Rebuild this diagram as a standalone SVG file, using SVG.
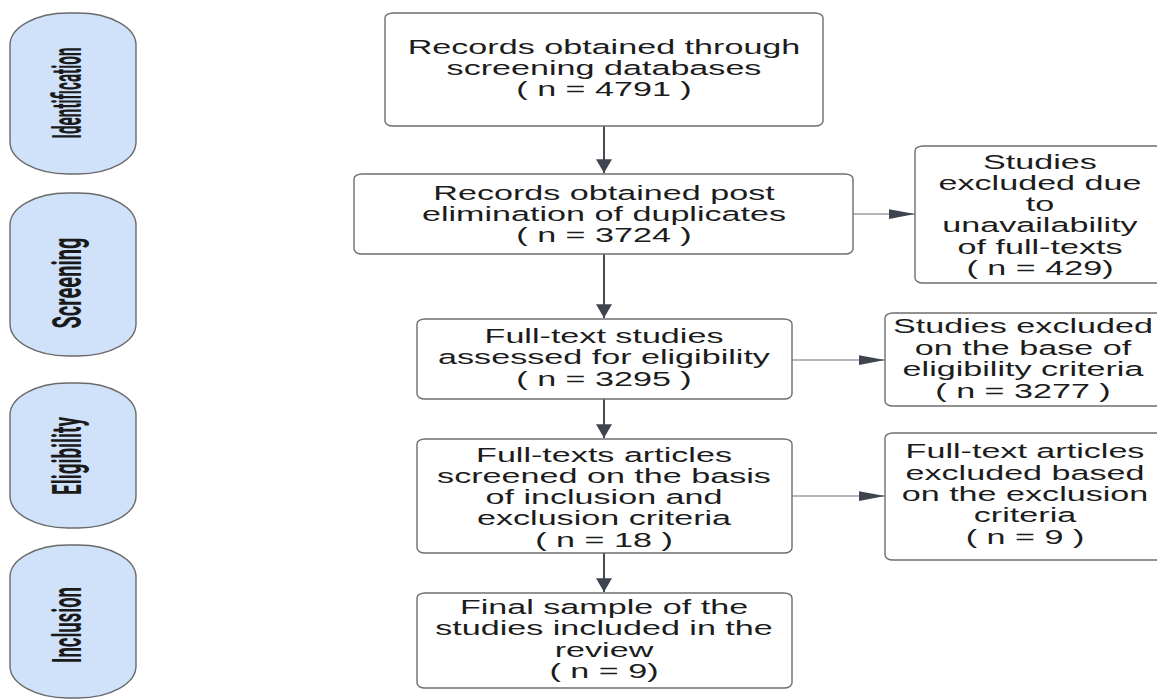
<svg xmlns="http://www.w3.org/2000/svg" width="1157" height="699" viewBox="0 0 1157 699">
<style>
.bg{fill:#ffffff}
.box{fill:#ffffff;stroke:#6e6e6e;stroke-width:1.4}
.pill{fill:#cfe2fa;stroke:#6a6a6a;stroke-width:1.4}
.t{font-family:"Liberation Sans",Arial,sans-serif;font-size:20.5px;fill:#1c1c1c;text-anchor:middle}
.p{font-family:Roboto,"DejaVu Sans Condensed",sans-serif;font-weight:bold;font-size:40px;fill:#1a1a1a;text-anchor:middle}
.v{stroke:#454b55;stroke-width:2;fill:none}
.h{stroke:#6a6e75;stroke-width:1.1;fill:none}
</style>
<defs>
<marker id="arrV" markerUnits="userSpaceOnUse" markerWidth="14" markerHeight="16" refX="12" refY="7" orient="auto" viewBox="0 0 12 14">
<path d="M0,0 L12,7 L0,14 Z" fill="#3f4550"/>
</marker>
<marker id="arrH" markerUnits="userSpaceOnUse" markerWidth="26" markerHeight="10" refX="24" refY="4.5" orient="auto" viewBox="0 0 24 9">
<path d="M0,0 L24,4.5 L0,9 Z" fill="#3f4550"/>
</marker>
</defs>
<rect class="bg" x="0" y="0" width="1157" height="699"/>

<g id="stage-identification">
<rect class="pill" x="10" y="13" width="126" height="161" rx="58" ry="32"/>
<text class="p" transform="translate(81,93) rotate(-90) scale(0.4,1)" textLength="227.5" lengthAdjust="spacingAndGlyphs">Identification</text>
</g>
<g id="stage-screening">
<rect class="pill" x="10" y="193" width="126" height="163" rx="58" ry="32"/>
<text class="p" transform="translate(81,283) rotate(-90) scale(0.4,1)" textLength="227.5" lengthAdjust="spacingAndGlyphs">Screening</text>
</g>
<g id="stage-eligibility">
<rect class="pill" x="10" y="383" width="126" height="145" rx="58" ry="32"/>
<text class="p" transform="translate(81,456) rotate(-90) scale(0.4,1)" textLength="195" lengthAdjust="spacingAndGlyphs">Eligibility</text>
</g>
<g id="stage-inclusion">
<rect class="pill" x="10" y="545" width="126" height="153" rx="58" ry="32"/>
<text class="p" transform="translate(81,625) rotate(-90) scale(0.4,1)" textLength="190" lengthAdjust="spacingAndGlyphs">Inclusion</text>
</g>

<g id="connectors">
<path class="v" d="M604,126 L604,173" marker-end="url(#arrV)"/>
<path class="v" d="M604,254 L604,318" marker-end="url(#arrV)"/>
<path class="v" d="M604,399 L604,438" marker-end="url(#arrV)"/>
<path class="v" d="M604,553 L604,592" marker-end="url(#arrV)"/>
<path class="h" d="M853,214 L915,214" marker-end="url(#arrH)"/>
<path class="h" d="M792,360 L885,360" marker-end="url(#arrH)"/>
<path class="h" d="M792,496 L885,496" marker-end="url(#arrH)"/>
</g>

<g id="records-identified">
<rect class="box" x="385" y="13" width="438" height="113" rx="8" ry="5"/>
<text class="t" transform="translate(604,0) scale(1.665,1)"><tspan x="0" y="54">Records obtained through</tspan><tspan x="0" y="75">screening databases</tspan><tspan x="0" y="96">( n = 4791 )</tspan></text>
</g>
<g id="records-deduplicated">
<rect class="box" x="354" y="174" width="499" height="80" rx="8" ry="5"/>
<text class="t" transform="translate(604,0) scale(1.665,1)"><tspan x="0" y="200">Records obtained post</tspan><tspan x="0" y="221">elimination of duplicates</tspan><tspan x="0" y="242">( n = 3724 )</tspan></text>
</g>
<g id="fulltext-assessed">
<rect class="box" x="417" y="319" width="375" height="80" rx="8" ry="5"/>
<text class="t" transform="translate(604,0) scale(1.665,1)"><tspan x="0" y="343">Full-text studies</tspan><tspan x="0" y="364">assessed for eligibility</tspan><tspan x="0" y="386">( n = 3295 )</tspan></text>
</g>
<g id="fulltext-screened">
<rect class="box" x="417" y="439" width="375" height="114" rx="8" ry="5"/>
<text class="t" transform="translate(604,0) scale(1.665,1)"><tspan x="0" y="462">Full-texts articles</tspan><tspan x="0" y="483">screened on the basis</tspan><tspan x="0" y="504">of inclusion and</tspan><tspan x="0" y="525">exclusion criteria</tspan><tspan x="0" y="547">( n = 18 )</tspan></text>
</g>
<g id="final-sample">
<rect class="box" x="417" y="593" width="375" height="95" rx="8" ry="5"/>
<text class="t" transform="translate(604,0) scale(1.665,1)"><tspan x="0" y="614">Final sample of the</tspan><tspan x="0" y="635">studies included in the</tspan><tspan x="0" y="657">review</tspan><tspan x="0" y="678">( n = 9)</tspan></text>
</g>
<g id="excluded-unavailable">
<rect class="box" x="915" y="146" width="250" height="137" rx="8" ry="5"/>
<text class="t" transform="translate(1040,0) scale(1.665,1)"><tspan x="0" y="169">Studies</tspan><tspan x="0" y="190">excluded due</tspan><tspan x="0" y="211">to</tspan><tspan x="0" y="232">unavailability</tspan><tspan x="0" y="254">of full-texts</tspan><tspan x="0" y="275">( n = 429)</tspan></text>
</g>
<g id="excluded-eligibility">
<rect class="box" x="885" y="313" width="280" height="93" rx="8" ry="5"/>
<text class="t" transform="translate(1023,0) scale(1.665,1)"><tspan x="0" y="333">Studies excluded</tspan><tspan x="0" y="355">on the base of</tspan><tspan x="0" y="376">eligibility criteria</tspan><tspan x="0" y="398">( n = 3277 )</tspan></text>
</g>
<g id="excluded-criteria">
<rect class="box" x="885" y="433" width="280" height="127" rx="8" ry="5"/>
<text class="t" transform="translate(1025,0) scale(1.665,1)"><tspan x="0" y="458">Full-text articles</tspan><tspan x="0" y="480">excluded based</tspan><tspan x="0" y="501">on the exclusion</tspan><tspan x="0" y="522">criteria</tspan><tspan x="0" y="544">( n = 9 )</tspan></text>
</g>
</svg>
